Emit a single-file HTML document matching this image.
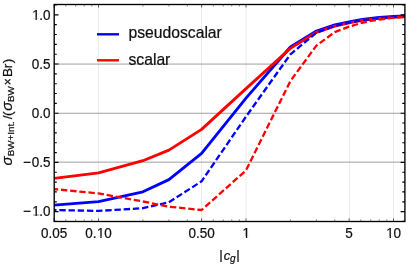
<!DOCTYPE html><html><head><meta charset="utf-8"><style>html,body{margin:0;padding:0;background:#fff}svg{display:block;will-change:transform;opacity:0.999}text{font-family:"Liberation Sans",sans-serif;fill:#111;stroke:#111;stroke-width:0.22px}</style></head><body>
<svg width="407" height="267" viewBox="0 0 407 267">
<rect width="407" height="267" fill="#fff"/>
<line x1="98.5" x2="98.5" y1="4.5" y2="221.4" stroke="#ebebeb" stroke-width="1"/>
<line x1="201.5" x2="201.5" y1="4.5" y2="221.4" stroke="#ebebeb" stroke-width="1"/>
<line x1="246.0" x2="246.0" y1="4.5" y2="221.4" stroke="#ebebeb" stroke-width="1"/>
<line x1="349.5" x2="349.5" y1="4.5" y2="221.4" stroke="#ebebeb" stroke-width="1"/>
<line x1="393.5" x2="393.5" y1="4.5" y2="221.4" stroke="#ebebeb" stroke-width="1"/>
<line x1="54.2" x2="404.9" y1="64.08" y2="64.08" stroke="#a0a0a0" stroke-width="1"/>
<line x1="54.2" x2="404.9" y1="113.25" y2="113.25" stroke="#a0a0a0" stroke-width="1"/>
<line x1="54.2" x2="404.9" y1="162.15" y2="162.15" stroke="#a0a0a0" stroke-width="1"/>
<clipPath id="cp"><rect x="54.2" y="4.5" width="350.7" height="217.0"/></clipPath>
<g clip-path="url(#cp)" fill="none" stroke-linejoin="round">
<polyline points="54.1,205.1 98.5,201.7 142.9,191.8 168.9,179.6 201.6,153.3 246.0,98.1 290.4,47.0 316.4,31.0 334.8,24.8 349.1,21.8 360.8,19.6 370.7,18.3 379.2,17.5 386.8,16.9 393.5,16.5 399.6,16.2 404.9,16.0" stroke="#0000ff" stroke-width="2.85"/>
<polyline points="54.1,178.4 98.5,172.8 142.9,160.7 168.9,150.1 201.6,129.4 246.0,88.6 290.4,48.4 316.4,32.3 334.8,26.2 349.1,22.8 360.8,20.7 370.7,19.3 379.2,18.4 386.8,17.8 393.5,17.3 399.6,16.9 404.9,16.7" stroke="#ff0000" stroke-width="2.85"/>
<polyline points="54.1,210.0 98.5,210.9 142.9,208.2 168.9,202.3 201.6,181.3 246.0,116.6 290.4,54.3 316.4,32.7 334.8,26.0 349.1,22.6 360.8,20.4 370.7,19.1 379.2,18.2 386.8,17.5 393.5,17.1 399.6,16.7 404.9,16.4" stroke="#0000ff" stroke-width="2.3" stroke-dasharray="6.4 2.8" stroke-dashoffset="4"/>
<polyline points="54.1,189.1 98.5,193.4 142.9,201.5 168.9,206.7 201.6,210.0 246.0,170.4 290.4,81.0 316.4,45.6 334.8,32.1 349.1,26.7 360.8,23.1 370.7,20.9 379.2,19.5 386.8,18.5 393.5,17.8 399.6,17.3 404.9,16.9" stroke="#ff0000" stroke-width="2.3" stroke-dasharray="6.4 2.8" stroke-dashoffset="2.3"/>
</g>
<path d="M54.2 221.4h2.6M404.9 221.4h-2.6M54.2 211.6h4.3M404.9 211.6h-4.3M54.2 201.8h2.6M404.9 201.8h-2.6M54.2 191.9h2.6M404.9 191.9h-2.6M54.2 182.1h2.6M404.9 182.1h-2.6M54.2 172.2h2.6M404.9 172.2h-2.6M54.2 162.4h4.3M404.9 162.4h-4.3M54.2 152.6h2.6M404.9 152.6h-2.6M54.2 142.7h2.6M404.9 142.7h-2.6M54.2 132.9h2.6M404.9 132.9h-2.6M54.2 123.0h2.6M404.9 123.0h-2.6M54.2 113.2h4.3M404.9 113.2h-4.3M54.2 103.4h2.6M404.9 103.4h-2.6M54.2 93.5h2.6M404.9 93.5h-2.6M54.2 83.7h2.6M404.9 83.7h-2.6M54.2 73.8h2.6M404.9 73.8h-2.6M54.2 64.0h4.3M404.9 64.0h-4.3M54.2 54.2h2.6M404.9 54.2h-2.6M54.2 44.3h2.6M404.9 44.3h-2.6M54.2 34.5h2.6M404.9 34.5h-2.6M54.2 24.6h2.6M404.9 24.6h-2.6M54.2 14.8h4.3M404.9 14.8h-4.3M54.2 5.0h2.6M404.9 5.0h-2.6" stroke="#000" stroke-width="1.15" fill="none"/>
<path d="M54.1 221.4v-3.0M54.1 4.5v3.0M98.5 221.4v-3.0M98.5 4.5v3.0M201.6 221.4v-3.0M201.6 4.5v3.0M246.0 221.4v-3.0M246.0 4.5v3.0M349.1 221.4v-3.0M349.1 4.5v3.0M393.5 221.4v-3.0M393.5 4.5v3.0" stroke="#111" stroke-width="0.65" fill="none"/>
<path d="M65.8 221.4v-1.9M65.8 4.5v1.9M75.7 221.4v-1.9M75.7 4.5v1.9M84.2 221.4v-1.9M84.2 4.5v1.9M91.8 221.4v-1.9M91.8 4.5v1.9M142.9 221.4v-1.9M142.9 4.5v1.9M168.9 221.4v-1.9M168.9 4.5v1.9M187.3 221.4v-1.9M187.3 4.5v1.9M213.3 221.4v-1.9M213.3 4.5v1.9M223.2 221.4v-1.9M223.2 4.5v1.9M231.7 221.4v-1.9M231.7 4.5v1.9M239.3 221.4v-1.9M239.3 4.5v1.9M290.4 221.4v-1.9M290.4 4.5v1.9M316.4 221.4v-1.9M316.4 4.5v1.9M334.8 221.4v-1.9M334.8 4.5v1.9M360.8 221.4v-1.9M360.8 4.5v1.9M370.7 221.4v-1.9M370.7 4.5v1.9M379.2 221.4v-1.9M379.2 4.5v1.9M386.8 221.4v-1.9M386.8 4.5v1.9" stroke="#222" stroke-width="0.6" fill="none"/>
<rect x="54.2" y="4.5" width="350.7" height="217.0" fill="none" stroke="#000" stroke-width="1.35"/>
<clipPath id="c1"><path d="M-1 -14H9V-1.08H4.66V1H3.32V-1.08H-1Z"/></clipPath>
<text transform="translate(40.96,237.50) scale(1,1.07)" font-size="13.5">0</text>
<text transform="translate(48.47,237.50) scale(1,1.07)" font-size="13.5">.</text>
<text transform="translate(52.22,237.50) scale(1,1.07)" font-size="13.5">0</text>
<text transform="translate(59.73,237.50) scale(1,1.07)" font-size="13.5">5</text>
<text transform="translate(85.36,237.50) scale(1,1.07)" font-size="13.5">0</text>
<text transform="translate(92.87,237.50) scale(1,1.07)" font-size="13.5">.</text>
<text transform="translate(96.97,237.50) scale(1,1.07)" font-size="13.5" clip-path="url(#c1)">1</text>
<text transform="translate(104.13,237.50) scale(1,1.07)" font-size="13.5">0</text>
<text transform="translate(188.46,237.50) scale(1,1.07)" font-size="13.5">0</text>
<text transform="translate(195.97,237.50) scale(1,1.07)" font-size="13.5">.</text>
<text transform="translate(199.72,237.50) scale(1,1.07)" font-size="13.5">5</text>
<text transform="translate(207.23,237.50) scale(1,1.07)" font-size="13.5">0</text>
<text transform="translate(242.60,237.50) scale(1,1.07)" font-size="13.5" clip-path="url(#c1)">1</text>
<text transform="translate(345.34,237.50) scale(1,1.07)" font-size="13.5">5</text>
<text transform="translate(386.34,237.50) scale(1,1.07)" font-size="13.5" clip-path="url(#c1)">1</text>
<text transform="translate(393.50,237.50) scale(1,1.07)" font-size="13.5">0</text>
<text transform="translate(32.18,19.60) scale(1,1.07)" font-size="13.5" clip-path="url(#c1)">1</text>
<text transform="translate(39.34,19.60) scale(1,1.07)" font-size="13.5">.</text>
<text transform="translate(43.09,19.60) scale(1,1.07)" font-size="13.5">0</text>
<text transform="translate(31.83,68.80) scale(1,1.07)" font-size="13.5">0</text>
<text transform="translate(39.34,68.80) scale(1,1.07)" font-size="13.5">.</text>
<text transform="translate(43.09,68.80) scale(1,1.07)" font-size="13.5">5</text>
<text transform="translate(31.83,118.00) scale(1,1.07)" font-size="13.5">0</text>
<text transform="translate(39.34,118.00) scale(1,1.07)" font-size="13.5">.</text>
<text transform="translate(43.09,118.00) scale(1,1.07)" font-size="13.5">0</text>
<text transform="translate(22.95,167.20) scale(1,1.07)" font-size="13.5">−</text>
<text transform="translate(31.83,167.20) scale(1,1.07)" font-size="13.5">0</text>
<text transform="translate(39.34,167.20) scale(1,1.07)" font-size="13.5">.</text>
<text transform="translate(43.09,167.20) scale(1,1.07)" font-size="13.5">5</text>
<text transform="translate(22.95,216.40) scale(1,1.07)" font-size="13.5">−</text>
<text transform="translate(32.18,216.40) scale(1,1.07)" font-size="13.5" clip-path="url(#c1)">1</text>
<text transform="translate(39.34,216.40) scale(1,1.07)" font-size="13.5">.</text>
<text transform="translate(43.09,216.40) scale(1,1.07)" font-size="13.5">0</text>
<line x1="97" x2="119" y1="34.3" y2="34.3" stroke="#0000ff" stroke-width="2.4"/>
<line x1="97" x2="119" y1="60.3" y2="60.3" stroke="#ff0000" stroke-width="2.4"/>
<text x="128.5" y="38.2" font-size="15.7">pseudoscalar</text>
<text x="128.5" y="64.5" font-size="15.7">scalar</text>
<text x="219.15" y="259.4" font-size="13.5">|</text>
<text x="236.25" y="259.4" font-size="13.5">|</text>
<text x="223.7" y="259.8" font-size="13" font-style="italic">c</text>
<text x="230.0" y="262.3" font-size="10" font-style="italic">g</text>
<g transform="translate(12.2,0) rotate(-90)">
<text x="-165.6" y="0.0" font-size="15" font-style="italic">σ</text>
<text x="-156.3" y="2.2" font-size="9.8" font-style="normal">BW+Int.</text>
<text x="-119.3" y="0.0" font-size="13.5" font-style="normal">/</text>
<text x="-116.0" y="0.0" font-size="13.5" font-style="normal">(</text>
<text x="-110.8" y="0.0" font-size="15" font-style="italic">σ</text>
<text x="-102.1" y="2.2" font-size="9.8" font-style="normal">BW</text>
<text x="-85.2" y="-0.6" font-size="12" font-style="normal">×</text>
<text x="-77.0" y="0.0" font-size="13.5" font-style="normal">B</text>
<text x="-68.2" y="0.0" font-size="13.5" font-style="normal">r</text>
<text x="-63.3" y="0.0" font-size="13.5" font-style="normal">)</text>
</g>
</svg></body></html>
